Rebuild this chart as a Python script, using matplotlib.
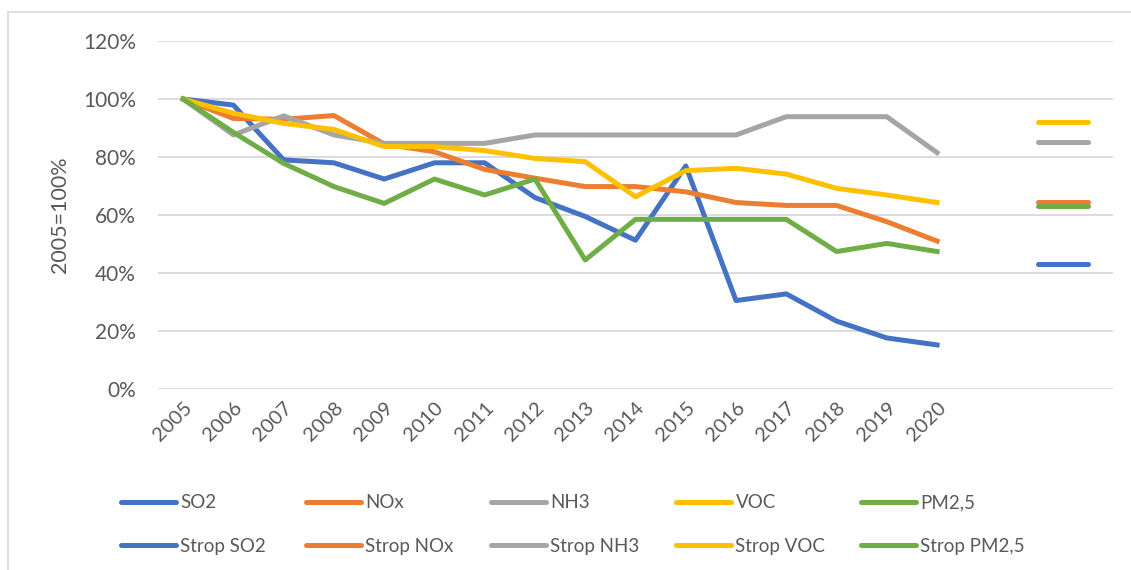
import matplotlib
matplotlib.use("Agg")
import matplotlib.pyplot as plt
from matplotlib.lines import Line2D
import numpy as np

plt.rcParams["font.family"] = ["Lato", "DejaVu Sans"]

years = [str(y) for y in range(2005, 2021)]

so2 = [100, 97.9, 79.0, 78.0, 72.4, 78.0, 78.0, 66.0, 59.5, 51.3, 76.9, 30.5, 32.8, 23.4, 17.6, 15.2]
nox = [100, 93.3, 93.0, 94.3, 84.5, 81.8, 75.7, 72.7, 69.8, 69.8, 68.0, 64.3, 63.3, 63.3, 57.7, 51.0]
nh3 = [100, 87.6, 94.2, 87.6, 84.7, 84.7, 84.7, 87.6, 87.6, 87.6, 87.6, 87.6, 93.9, 93.9, 93.9, 81.5]
voc = [100, 95.1, 91.6, 89.5, 83.6, 83.6, 82.2, 79.5, 78.4, 66.3, 75.3, 76.1, 74.1, 69.2, 66.9, 64.3]
pm25 = [100, 88.5, 77.8, 69.8, 64.0, 72.4, 66.9, 72.4, 44.5, 58.5, 58.5, 58.5, 58.5, 47.4, 50.2, 47.4]

# target values (shown as short bars to the right)
strop = {"SO2": 43.2, "NOx": 64.4, "NH3": 85.1, "VOC": 92.2, "PM2,5": 63.0}

names = ["SO2", "NOx", "NH3", "VOC", "PM2,5"]
series = [so2, nox, nh3, voc, pm25]
colors = ["#4472C4", "#ED7D31", "#A5A5A5", "#FFC000", "#70AD47"]
txt = "#595959"

fig = plt.figure(figsize=(11.31, 5.70), dpi=100)
ax = fig.add_axes([158 / 1131, 1 - 389 / 570, (1113 - 158) / 1131, (389 - 41) / 570])

x = np.arange(len(years))
for vals, c in zip(series, colors):
    ax.plot(x, np.array(vals) / 100, color=c, lw=3.6, solid_joinstyle="round", zorder=3)

# strop lines at the two unlabeled categories after 2020
for n, c in zip(names, colors):
    ax.plot([17, 18], [strop[n] / 100] * 2, color=c, lw=3.6, solid_capstyle="round", zorder=3)

ax.set_xlim(-0.5, 18.5)
ax.set_ylim(0, 1.2)
ax.set_yticks(np.arange(0, 1.21, 0.2))
ax.set_yticklabels([f"{int(round(v * 100))}%" for v in np.arange(0, 1.21, 0.2)])
ax.set_xticks(x)
ax.set_xticklabels(years, rotation=45, ha="right", rotation_mode="anchor")
ax.grid(axis="y", color="#D9D9D9", lw=1.3, zorder=0)
ax.set_axisbelow(True)
for s in ax.spines.values():
    s.set_visible(False)
ax.tick_params(length=0, colors=txt)
ax.tick_params(axis="y", pad=16, labelsize=15)
ax.tick_params(axis="x", pad=7, labelsize=14.5)
ax.set_ylabel("2005=100%", color=txt, fontsize=15.5)
ax.yaxis.set_label_coords((70 - 158) / 955, 0.5)

# legend, one small legend per column
for j, (n, c) in enumerate(zip(names, colors)):
    hs = [Line2D([0], [0], color=c, lw=3.6, solid_capstyle="round"),
          Line2D([0], [0], color=c, lw=3.6, solid_capstyle="round")]
    leg = fig.legend(hs, [n, "Strop " + n], loc="upper left",
                     bbox_to_anchor=((112 + 185 * j) / 1131, 1 - 485 / 570),
                     frameon=False, fontsize=13.5, handlelength=2.9,
                     handletextpad=0.25, labelspacing=1.4, borderpad=0)
    for t in leg.get_texts():
        t.set_color(txt)

# chart frame (only left and top edges are visible)
fig.add_artist(Line2D([8 / 1131, 8 / 1131], [0, 1 - 12 / 570], color="#D9D9D9", lw=1.2))
fig.add_artist(Line2D([8 / 1131, 1], [1 - 12 / 570, 1 - 12 / 570], color="#D9D9D9", lw=1.2))

fig.savefig("out.png", dpi=100)
